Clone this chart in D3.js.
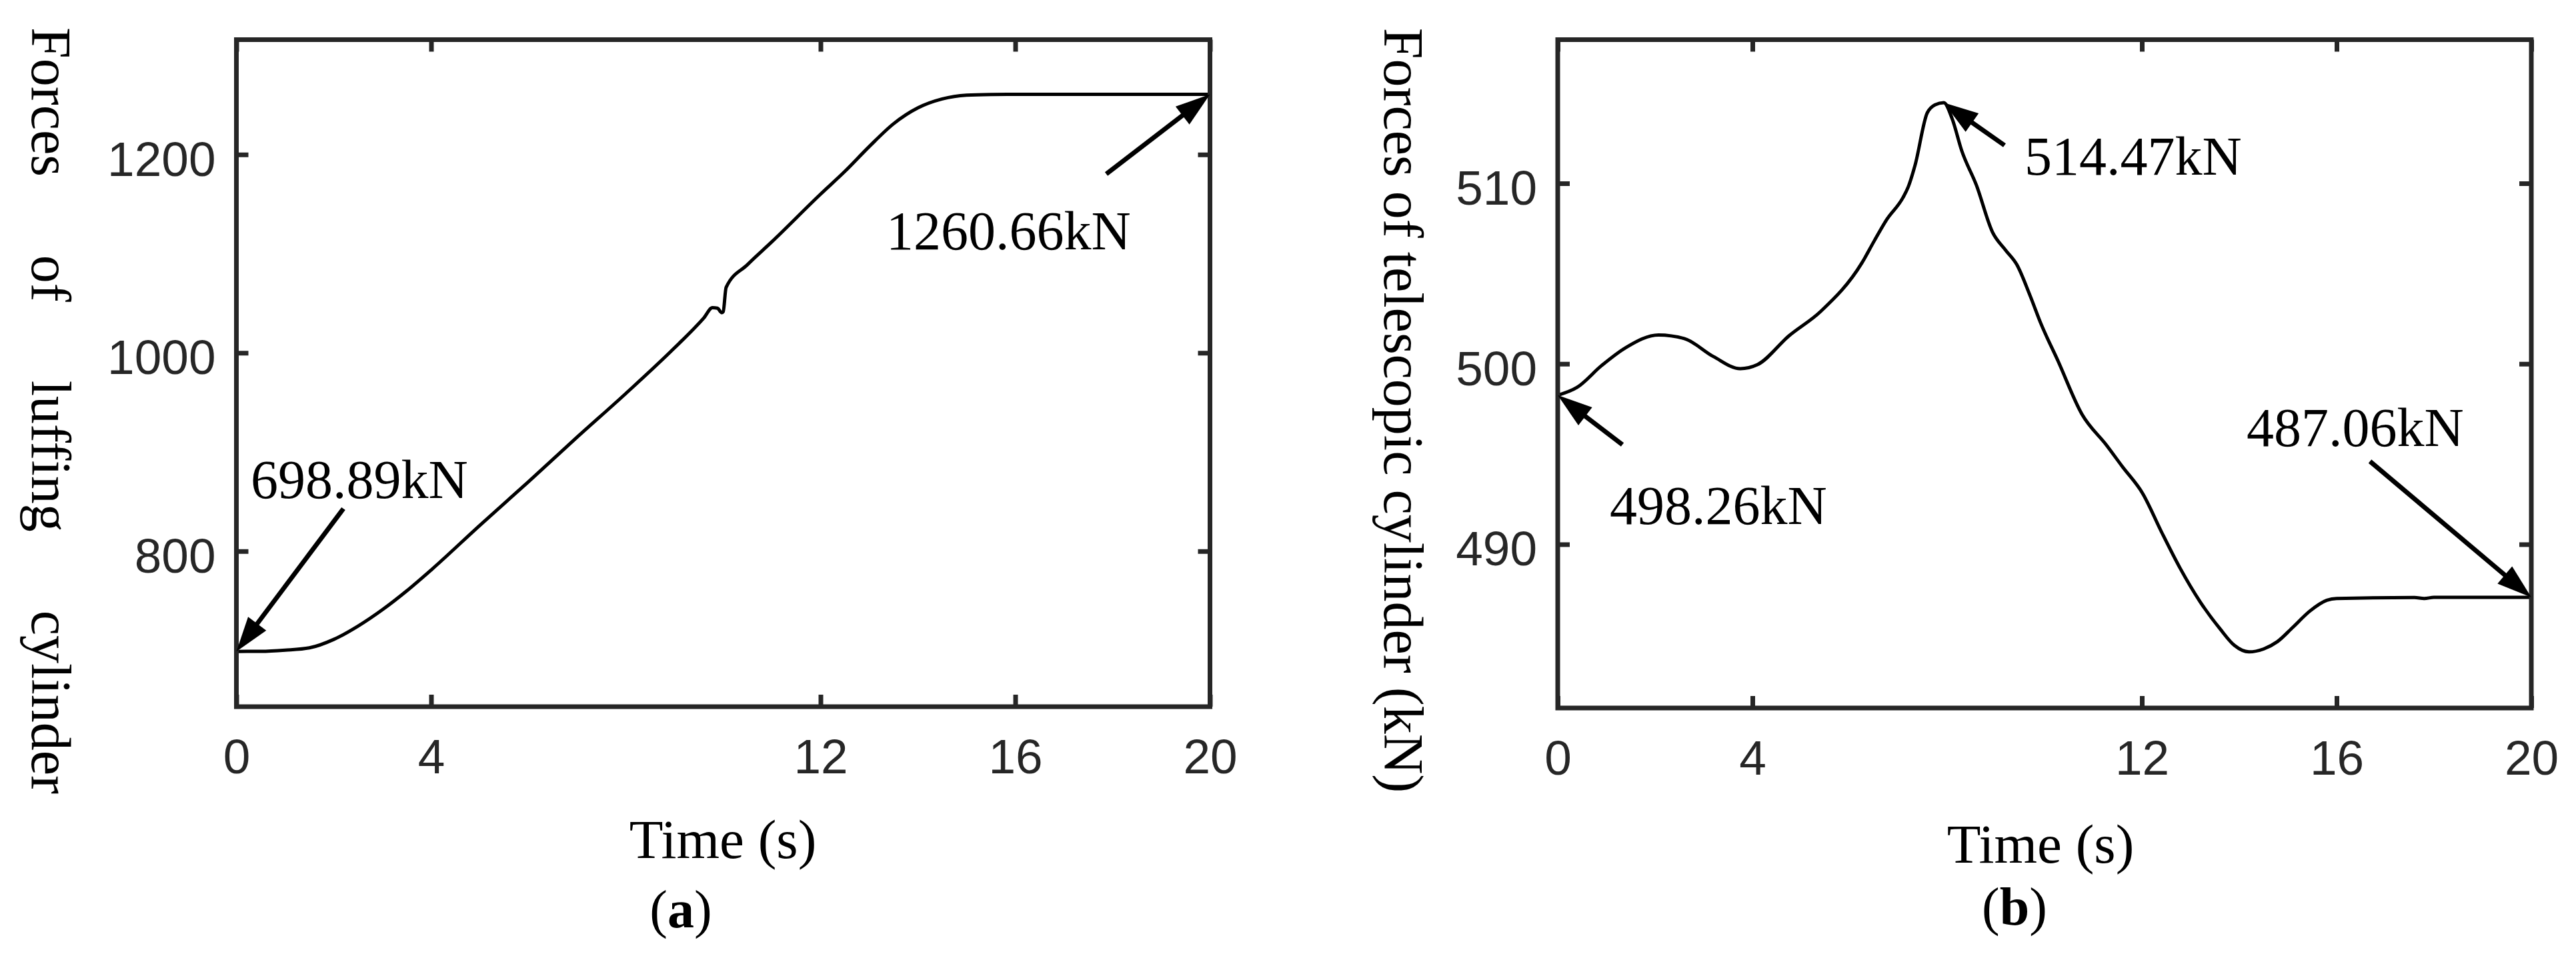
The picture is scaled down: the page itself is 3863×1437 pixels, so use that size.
<!DOCTYPE html>
<html>
<head>
<meta charset="utf-8">
<script src="https://cdn.jsdelivr.net/npm/d3@7"></script>
<style>
  html, body { margin: 0; padding: 0; background: #fff; }
  svg { display: block; }
</style>
</head>
<body>
<script>
'use strict';

// (a) luffing cylinder force, kN
var timeA = [0, 0.5, 1.0, 1.5, 2.0, 2.5, 3.0, 3.5, 4.0, 5.0, 6.0, 7.0, 8.0, 9.0, 9.6, 9.78, 9.88, 9.97, 10.0, 10.06, 10.5, 11.0, 12.0, 12.5, 13.0, 13.5, 14.0, 14.5, 15.0, 15.5, 16.0, 18.0, 20.0];
var forceA = [698.89, 699.0, 700.2, 702.5, 711, 724.5, 741, 760, 781, 826, 870, 915, 959, 1005, 1035, 1045.5, 1045, 1040.5, 1041.5, 1066, 1089, 1112, 1160, 1183, 1208, 1231, 1247, 1256, 1259.8, 1260.5, 1260.66, 1260.66, 1260.66];

// (b) telescopic cylinder force, kN
var timeB = [0, 0.4, 0.9, 1.4, 2.07, 2.6, 3.2, 3.75, 4.1, 4.75, 5.4, 6.25, 6.5, 6.76, 7.09, 7.2, 7.34, 7.59, 7.75, 7.93, 8.1, 8.3, 8.6, 8.93, 9.2, 9.43, 9.7, 9.93, 10.27, 10.77, 11.27, 11.6, 12.02, 12.4, 12.78, 13.2, 13.61, 13.9, 14.2, 14.5, 14.78, 15.1, 15.45, 15.8, 16.0, 17.6, 17.8, 18.0, 20.0];
var forceB = [498.26, 498.7, 499.9, 500.9, 501.6, 501.4, 500.4, 499.73, 499.95, 501.55, 502.9, 505.6, 506.8, 508.0, 509.2, 509.8, 511.0, 513.9, 514.35, 514.47, 513.6, 511.8, 509.9, 507.3, 506.3, 505.5, 503.8, 502.2, 500.2, 497.2, 495.5, 494.3, 492.8, 490.7, 488.7, 486.8, 485.3, 484.4, 484.04, 484.2, 484.6, 485.4, 486.3, 486.9, 487.0, 487.05, 487.0, 487.06, 487.06];

var xTicks = [0, 4, 12, 16, 20];
var yTicksA = [800, 1000, 1200];
var yTicksB = [490, 500, 510];

var width = 3863;
var height = 1437;
var axisColor = "#262626";
var sansFont = "'Liberation Sans', Arial, Helvetica, sans-serif";
var serifFont = "'Liberation Serif', 'Times New Roman', Times, serif";

var svg = d3.select("body").append("svg")
    .attr("width", width)
    .attr("height", height);

svg.append("rect")
    .attr("width", width)
    .attr("height", height)
    .attr("fill", "#fff");

var panels = [
    {
        left: 354.5, right: 1814.5, top: 59.5, bottom: 1060,
        xDomain: [0, 20], yDomain: [643.2, 1315.8],
        time: timeA, force: forceA, yTicks: yTicksA,
        ylabelWords: ["Forces", "of", "luffing", "cylinder"],
        ylabelX: 48, ylabelSpan: [41, 1191],
        xlabelX: 1084, xlabelY: 1287,
        caption: "a", captionX: 1021, captionY: 1391,
        notes: [
            { text: "698.89kN", i: 0, tail: [515, 763], textPos: [376, 747] },
            { text: "1260.66kN", i: forceA.length - 1, tail: [1659, 261], textPos: [1329, 374] }
        ]
    },
    {
        left: 2336, right: 3796, top: 59.5, bottom: 1062,
        xDomain: [0, 20], yDomain: [480.93, 517.96],
        time: timeB, force: forceB, yTicks: yTicksB,
        ylabelText: "Forces of telescopic cylinder (kN)",
        ylabelX: 2076, ylabelSpan: [38, 1193],
        xlabelX: 3060, xlabelY: 1294,
        caption: "b", captionX: 3021, captionY: 1387,
        notes: [
            { text: "498.26kN", i: 0, tail: [2433, 667], textPos: [2414, 786] },
            { text: "514.47kN", i: forceB.indexOf(514.47), tail: [3006, 218], textPos: [3036, 262] },
            { text: "487.06kN", i: forceB.length - 1, tail: [3554, 692], textPos: [3369, 669] }
        ]
    }
];

panels.forEach(drawPanel);

function drawPanel(p) {
    var x = d3.scaleLinear().domain(p.xDomain).range([p.left, p.right]);
    var y = d3.scaleLinear().domain(p.yDomain).range([p.bottom, p.top]);
    var tick = 18;
    var fmt = d3.format("d");

    var g = svg.append("g");

    // ticks on all four sides, pointing inward
    var axes = [
        { ax: d3.axisLeft(y).tickValues(p.yTicks).tickPadding(31), tr: [p.left, 0], labels: true, dy: "0.43em" },
        { ax: d3.axisRight(y).tickValues(p.yTicks), tr: [p.right, 0], labels: false },
        { ax: d3.axisBottom(x).tickValues(xTicks).tickPadding(48), tr: [0, p.bottom], labels: true, dy: "0.71em" },
        { ax: d3.axisTop(x).tickValues(xTicks), tr: [0, p.top], labels: false }
    ];
    axes.forEach(function(a) {
        a.ax.tickSizeInner(-tick).tickSizeOuter(0)
            .tickFormat(a.labels ? fmt : "");
        var ag = g.append("g")
            .attr("transform", "translate(" + a.tr[0] + "," + a.tr[1] + ")")
            .call(a.ax);
        ag.select(".domain").remove();
        ag.selectAll(".tick line")
            .attr("stroke", axisColor)
            .attr("stroke-width", 7);
        ag.selectAll(".tick text")
            .attr("fill", axisColor)
            .attr("dy", a.dy || null)
            .style("font-family", sansFont)
            .style("font-size", "73px");
    });

    // curve
    var line = d3.line()
        .x(function(d, i) { return x(p.time[i]); })
        .y(function(d) { return y(d); })
        .curve(d3.curveMonotoneX);

    g.append("path")
        .datum(p.force)
        .attr("fill", "none")
        .attr("stroke", "#000")
        .attr("stroke-width", 5)
        .attr("stroke-linejoin", "round")
        .attr("d", line);

    // box
    g.append("rect")
        .attr("x", p.left)
        .attr("y", p.top)
        .attr("width", p.right - p.left)
        .attr("height", p.bottom - p.top)
        .attr("fill", "none")
        .attr("stroke", axisColor)
        .attr("stroke-width", 7);

    // annotations
    p.notes.forEach(function(n) {
        var tip = [x(p.time[n.i]), y(p.force[n.i])];
        drawArrow(g, n.tail, tip);
        g.append("text")
            .attr("x", n.textPos[0])
            .attr("y", n.textPos[1])
            .style("font-family", serifFont)
            .style("font-size", "82px")
            .attr("fill", "#000")
            .text(n.text);
    });

    // x label
    g.append("text")
        .attr("x", p.xlabelX)
        .attr("y", p.xlabelY)
        .attr("text-anchor", "middle")
        .style("font-family", serifFont)
        .style("font-size", "83px")
        .text("Time (s)");

    // y label (reads top to bottom)
    if (p.ylabelText) {
        g.append("text")
            .attr("transform", "translate(" + p.ylabelX + "," + (p.ylabelSpan[0] + p.ylabelSpan[1]) / 2 + ") rotate(90)")
            .attr("text-anchor", "middle")
            .style("font-family", serifFont)
            .style("font-size", "84px")
            .text(p.ylabelText);
    } else {
        // justified across the axis height
        var words = p.ylabelWords.map(function(w) {
            return g.append("text")
                .style("font-family", serifFont)
                .style("font-size", "84px")
                .text(w);
        });
        var widths = words.map(function(t) { return t.node().getComputedTextLength(); });
        var span = p.ylabelSpan[1] - p.ylabelSpan[0];
        var gap = (span - d3.sum(widths)) / (words.length - 1);
        var pos = p.ylabelSpan[0];
        words.forEach(function(t, i) {
            t.attr("transform", "translate(" + p.ylabelX + "," + pos + ") rotate(90)");
            pos += widths[i] + gap;
        });
    }

    // sub caption
    var cap = g.append("text")
        .attr("x", p.captionX)
        .attr("y", p.captionY)
        .attr("text-anchor", "middle")
        .style("font-family", serifFont)
        .style("font-size", "80px");
    cap.append("tspan").text("(");
    cap.append("tspan").attr("font-weight", "bold").text(p.caption);
    cap.append("tspan").text(")");
}

function drawArrow(g, tail, tip) {
    var headLen = 52;
    var halfW = 17;
    var dx = tip[0] - tail[0];
    var dy = tip[1] - tail[1];
    var len = Math.sqrt(dx * dx + dy * dy);
    var ux = dx / len, uy = dy / len;
    var bx = tip[0] - ux * headLen, by = tip[1] - uy * headLen;

    g.append("line")
        .attr("x1", tail[0])
        .attr("y1", tail[1])
        .attr("x2", bx + ux * 4)
        .attr("y2", by + uy * 4)
        .attr("stroke", "#000")
        .attr("stroke-width", 7);

    g.append("path")
        .attr("d", "M" + tip[0] + "," + tip[1] +
            "L" + (bx - uy * halfW) + "," + (by + ux * halfW) +
            "L" + (bx + uy * halfW) + "," + (by - ux * halfW) + "Z")
        .attr("fill", "#000");
}
</script>
</body>
</html>
